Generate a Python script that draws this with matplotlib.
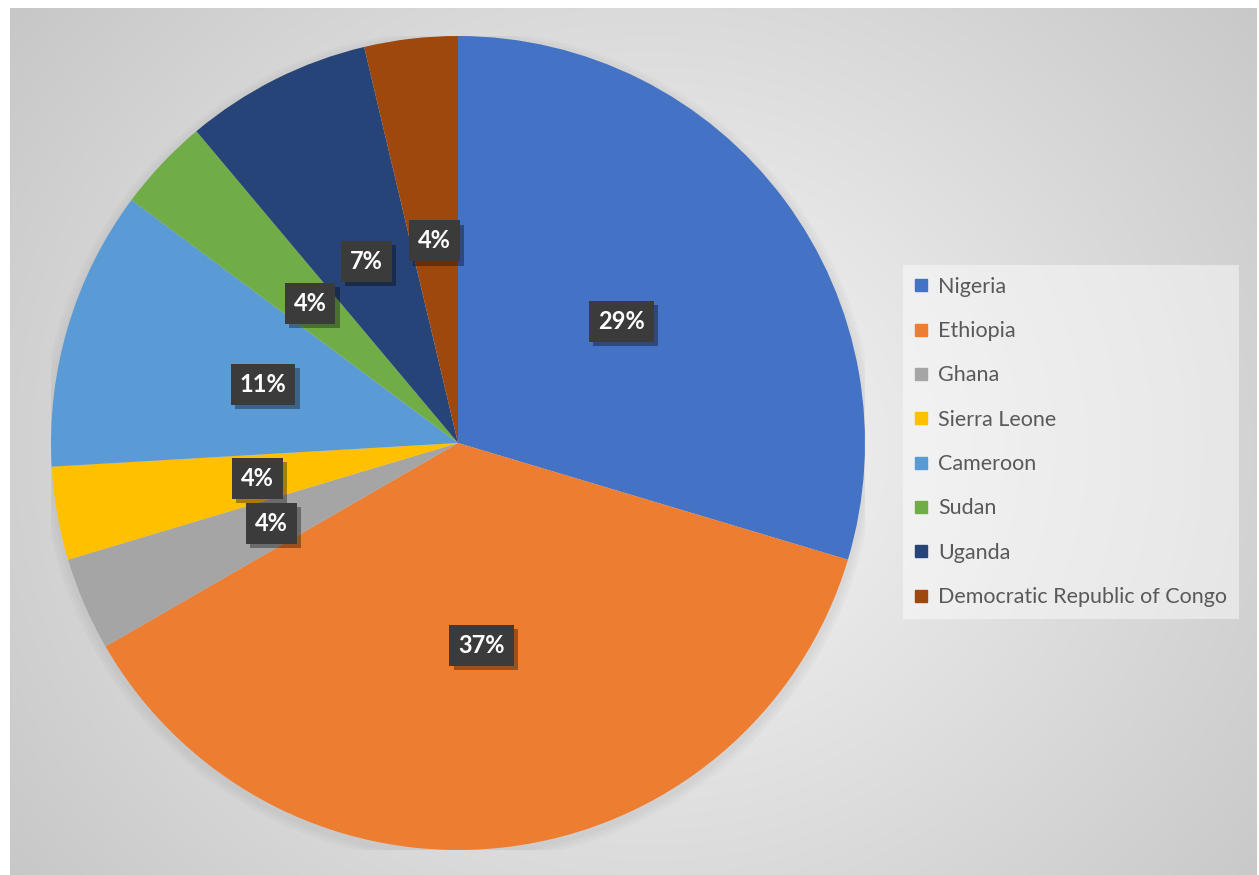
import numpy as np
import matplotlib.pyplot as plt
import matplotlib.patheffects as pe
from matplotlib.lines import Line2D
from matplotlib.patches import Circle

plt.rcParams['font.family'] = ['Lato', 'DejaVu Sans']

# counts per country (27 in total)
countries = ['Nigeria', 'Ethiopia', 'Ghana', 'Sierra Leone', 'Cameroon',
             'Sudan', 'Uganda', 'Democratic Republic of Congo']
counts = [8, 10, 1, 1, 3, 1, 2, 1]
# labels as printed on the chart
pct_labels = ['29%', '37%', '4%', '4%', '11%', '4%', '7%', '4%']
colors = ['#4472C4', '#ED7D31', '#A5A5A5', '#FFC000', '#5B9BD5',
          '#70AD47', '#264478', '#9E480E']

W, H = 1259, 875
fig = plt.figure(figsize=(W / 100, H / 100), dpi=100)

# gradient background
bg = fig.add_axes([10 / W, 0, (1257 - 10) / W, (875 - 8) / H])
bg.axis('off')
yy, xx = np.mgrid[0:867, 0:1247]
d = np.sqrt((xx - 640) ** 2 + ((yy - 440) * 1.1) ** 2)
g = 0.97 - 0.19 * (d / d.max())
bg.imshow(np.dstack([g, g, g]), aspect='auto', extent=[0, 1, 0, 1])
bg.set_xlim(0, 1)
bg.set_ylim(0, 1)

# pie
ax = fig.add_axes([51 / W, 25 / H, 814 / W, 814 / H])
ax.set_facecolor('none')
# soft shadow under the pie
for i, a in enumerate([0.05, 0.05, 0.05]):
    ax.add_patch(Circle((0.0, -0.008), 1.0 + 0.008 * (i + 1), color='#808080',
                        alpha=a, lw=0, zorder=0))
cnt = iter(pct_labels)
wedges, texts, autotexts = ax.pie(
    counts, colors=colors, startangle=90, counterclock=False,
    radius=1, autopct=lambda p: next(cnt), pctdistance=0.5,
    wedgeprops=dict(linewidth=0),
    textprops=dict(color='white', fontsize=17, fontweight='bold'))
for t in autotexts:
    t.set_bbox(dict(facecolor='#3b3b3b', edgecolor='none', boxstyle='square,pad=0.38'))
    t.get_bbox_patch().set_path_effects([
        pe.SimplePatchShadow(offset=(3, -3), shadow_rgbFace='black', alpha=0.35),
        pe.Normal()])
ax.set_xlim(-1, 1)
ax.set_ylim(-1, 1)
ax.set_aspect('equal')

# legend
handles = [Line2D([], [], linestyle='none', marker='s', markersize=8,
                  markerfacecolor=c, markeredgecolor=c) for c in colors]
leg = fig.legend(handles, countries, loc='upper left',
                 bbox_to_anchor=(903 / W, 1 - 265 / H), borderaxespad=0,
                 fontsize=15.5, labelcolor='#595959', frameon=True,
                 fancybox=False, edgecolor='none', facecolor='white',
                 framealpha=0.45, handlelength=0.6, handletextpad=0.47,
                 labelspacing=1.13, borderpad=0.55)

fig.savefig('out.png', dpi=100)
